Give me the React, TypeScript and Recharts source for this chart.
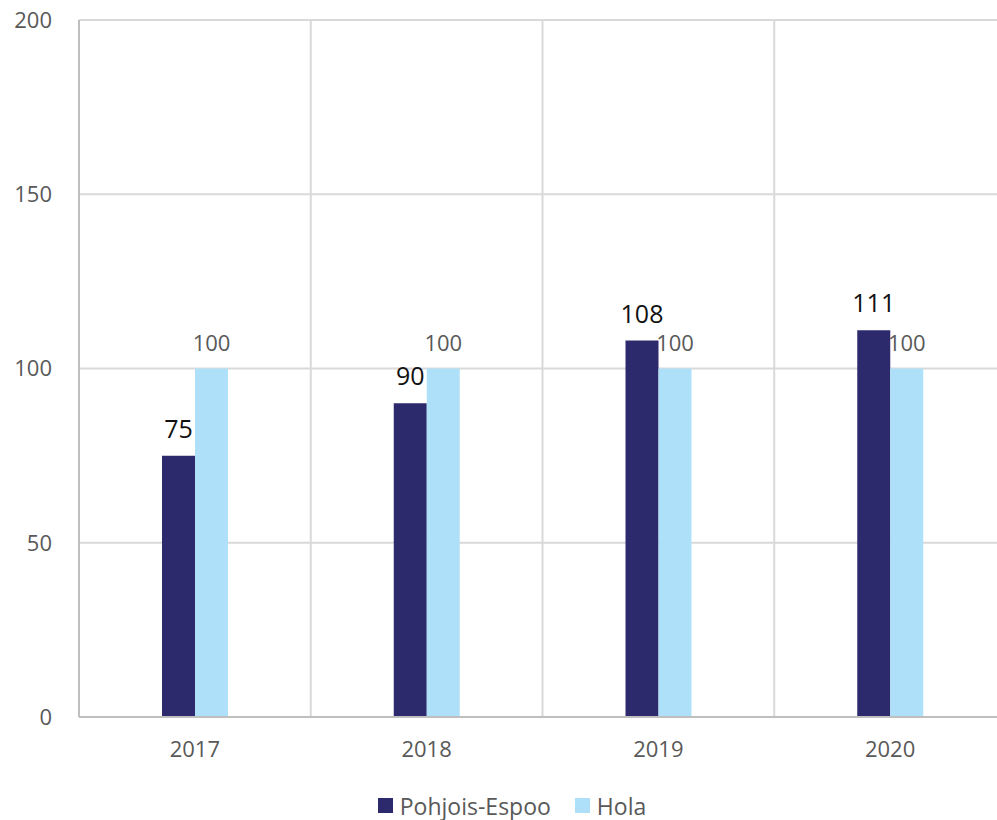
import React from 'react'
import { BarChart, Bar, XAxis, YAxis, CartesianGrid, Legend, LabelList } from 'recharts'

const years = ['2017', '2018', '2019', '2020']
const pohjoisEspoo = [75, 90, 108, 111]
const hola = [100, 100, 100, 100]
const yTicks = [0, 50, 100, 150, 200]

const DARK = '#2c2a6d'
const LIGHT = '#aee1f9'
const GRAY = '#595959'
const FONT = '"Open Sans", "Noto Sans", sans-serif'

const data = years.map((year, i) => ({
  year,
  pohjois: pohjoisEspoo[i],
  hola: hola[i],
}))

const legendItems = [
  { name: 'Pohjois-Espoo', color: DARK },
  { name: 'Hola', color: LIGHT },
]

// custom legend so spacing matches the original
const ChartLegend = () => (
  <div
    style={{
      height: 43,
      boxSizing: 'border-box',
      paddingTop: 14,
      paddingLeft: 18,
      display: 'flex',
      justifyContent: 'center',
      fontFamily: FONT,
      fontSize: 23,
      color: GRAY,
      lineHeight: '26px',
    }}
  >
    {legendItems.map((item, i) => (
      <div
        key={item.name}
        style={{ display: 'flex', alignItems: 'center', marginLeft: i === 0 ? 0 : 24 }}
      >
        <span style={{ width: 15, height: 15, background: item.color, marginRight: 7 }} />
        <span>{item.name}</span>
      </div>
    ))}
  </div>
)

export default function App() {
  return (
    <div
      style={{
        position: 'absolute',
        left: 0,
        top: 0,
        width: 997,
        height: 820,
        overflow: 'hidden',
        background: '#fff',
      }}
    >
      <BarChart
        width={1006}
        height={820}
        data={data}
        margin={{ top: 20, right: 0, bottom: 0, left: 0 }}
        barGap={0}
      >
        <CartesianGrid
          stroke="#d9d9d9"
          strokeWidth={2}
          verticalCoordinatesGenerator={({ offset }: any) =>
            [0, 1, 2, 3, 4].map((i) => offset.left + (i * offset.width) / years.length)
          }
        />
        <XAxis
          dataKey="year"
          height={60}
          axisLine={{ stroke: '#bfbfbf', strokeWidth: 2 }}
          tickLine={false}
          tickMargin={18}
          tick={{ fill: GRAY, fontSize: 22, fontFamily: FONT }}
        />
        <YAxis
          width={79}
          domain={[0, 200]}
          ticks={yTicks}
          interval={0}
          axisLine={{ stroke: '#bfbfbf', strokeWidth: 2 }}
          tickLine={false}
          tickMargin={21}
          tick={{ fill: GRAY, fontSize: 22, fontFamily: FONT }}
        />
        <Legend verticalAlign="bottom" content={<ChartLegend />} />
        <Bar dataKey="pohjois" name="Pohjois-Espoo" fill={DARK} barSize={33} isAnimationActive={false}>
          <LabelList
            dataKey="pohjois"
            position="top"
            offset={18}
            fill="#111"
            fontSize={25}
            fontFamily={FONT}
          />
        </Bar>
        <Bar dataKey="hola" name="Hola" fill={LIGHT} barSize={33} isAnimationActive={false}>
          <LabelList
            dataKey="hola"
            position="top"
            offset={18}
            fill={GRAY}
            fontSize={22}
            fontFamily={FONT}
          />
        </Bar>
      </BarChart>
    </div>
  )
}
